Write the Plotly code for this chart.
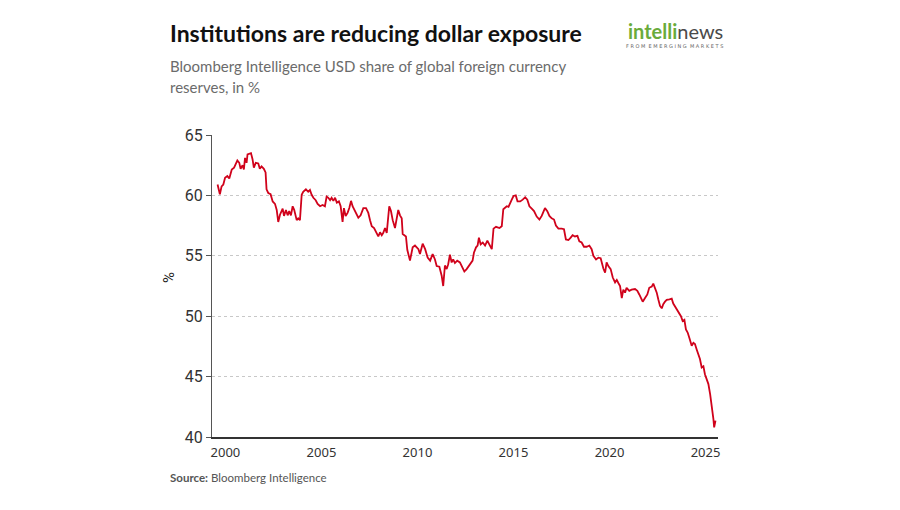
import plotly.graph_objects as go

years = [
    1999.59, 1999.71, 1999.80, 1999.89, 1999.98, 2000.10, 2000.20, 2000.33, 2000.45, 2000.55,
    2000.62, 2000.72, 2000.79, 2000.89, 2000.96, 2001.02, 2001.10, 2001.15, 2001.27, 2001.33,
    2001.41, 2001.48, 2001.58, 2001.71, 2001.79, 2001.88, 2002.00, 2002.09, 2002.14, 2002.23,
    2002.35, 2002.46, 2002.58, 2002.67, 2002.75, 2002.84, 2002.98, 2003.05, 2003.15, 2003.24,
    2003.32, 2003.41, 2003.50, 2003.58, 2003.71, 2003.79, 2003.88, 2003.97, 2004.05, 2004.19,
    2004.31, 2004.40, 2004.49, 2004.58, 2004.70, 2004.80, 2004.93, 2005.06, 2005.18, 2005.27,
    2005.36, 2005.45, 2005.53, 2005.62, 2005.71, 2005.80, 2005.91, 2006.00, 2006.10, 2006.17,
    2006.26, 2006.36, 2006.45, 2006.54, 2006.62, 2006.71, 2006.83, 2006.92, 2007.04, 2007.18,
    2007.32, 2007.44, 2007.53, 2007.62, 2007.74, 2007.88, 2007.96, 2008.05, 2008.14, 2008.22,
    2008.31, 2008.40, 2008.48, 2008.53, 2008.62, 2008.71, 2008.83, 2008.91, 2009.00, 2009.09,
    2009.18, 2009.23, 2009.40, 2009.47, 2009.61, 2009.75, 2009.87, 2010.05, 2010.13, 2010.27,
    2010.40, 2010.53, 2010.66, 2010.79, 2010.91, 2011.00, 2011.14, 2011.26, 2011.34, 2011.43,
    2011.52, 2011.60, 2011.69, 2011.78, 2011.86, 2011.95, 2012.07, 2012.21, 2012.30, 2012.44,
    2012.56, 2012.73, 2012.87, 2012.94, 2013.05, 2013.13, 2013.20, 2013.29, 2013.40, 2013.52,
    2013.64, 2013.74, 2013.87, 2013.96, 2014.09, 2014.27, 2014.39, 2014.47, 2014.56, 2014.65,
    2014.74, 2014.82, 2014.91, 2015.00, 2015.12, 2015.21, 2015.35, 2015.48, 2015.61, 2015.72,
    2015.83, 2015.95, 2016.07, 2016.21, 2016.35, 2016.47, 2016.56, 2016.64, 2016.76, 2016.87,
    2016.99, 2017.11, 2017.21, 2017.34, 2017.51, 2017.63, 2017.73, 2017.86, 2017.98, 2018.08,
    2018.20, 2018.33, 2018.43, 2018.55, 2018.67, 2018.81, 2018.95, 2019.07, 2019.16, 2019.30,
    2019.42, 2019.54, 2019.68, 2019.77, 2019.85, 2019.94, 2020.06, 2020.17, 2020.29, 2020.38,
    2020.46, 2020.55, 2020.64, 2020.72, 2020.81, 2020.89, 2021.03, 2021.15, 2021.33, 2021.45,
    2021.55, 2021.64, 2021.73, 2021.85, 2021.97, 2022.07, 2022.20, 2022.28, 2022.37, 2022.46,
    2022.54, 2022.63, 2022.72, 2022.80, 2022.89, 2022.98, 2023.12, 2023.24, 2023.32, 2023.41,
    2023.53, 2023.64, 2023.72, 2023.81, 2023.90, 2023.98, 2024.07, 2024.16, 2024.28, 2024.37,
    2024.45, 2024.54, 2024.63, 2024.71, 2024.80, 2024.89, 2024.97, 2025.06, 2025.15, 2025.24,
    2025.32, 2025.41, 2025.45, 2025.52,
]

usd_share = [
    60.9, 60.1, 60.75, 60.9, 61.45, 61.6, 61.4, 62.15, 62.3, 62.6,
    62.9, 62.7, 62.2, 62.5, 62.15, 63.1, 62.7, 63.4, 63.45, 63.5,
    63.0, 62.3, 62.7, 62.65, 62.2, 62.4, 62.2, 61.9, 60.5, 60.2,
    60.1, 59.5, 59.3, 58.8, 57.8, 58.4, 58.9, 58.3, 58.8, 58.35,
    58.7, 58.35, 59.1, 58.8, 57.95, 58.1, 57.95, 60.05, 60.3, 60.5,
    60.3, 60.45, 60.05, 59.8, 59.6, 59.3, 59.1, 59.2, 59.1, 59.9,
    59.8, 59.6, 59.8, 59.55, 59.8, 59.4, 59.5, 59.1, 57.8, 58.95,
    58.3, 58.55, 58.95, 59.55, 59.1, 58.8, 58.35, 58.15, 58.35, 58.95,
    58.95, 58.55, 57.95, 57.45, 57.3, 56.9, 56.6, 56.95, 56.7, 56.9,
    57.3, 56.9, 58.35, 59.1, 58.7, 57.95, 57.3, 57.95, 58.8, 58.35,
    58.1, 56.8, 56.6, 55.5, 54.6, 55.7, 55.85, 55.55, 55.15, 56.0,
    55.55, 54.85, 54.6, 55.15, 54.7, 54.15, 54.1, 53.35, 52.5, 54.2,
    53.9, 54.3, 55.1, 54.45, 54.7, 54.4, 54.6, 54.45, 54.15, 53.7,
    53.9, 54.3, 54.6, 55.25, 55.7, 55.85, 56.5, 55.95, 56.1, 55.85,
    56.25, 55.95, 55.55, 57.25, 57.4, 57.3, 57.45, 58.85, 58.95, 59.1,
    59.05, 59.4, 59.65, 59.95, 60.0, 59.5, 59.5, 59.65, 59.85, 59.65,
    59.1, 58.9, 58.7, 58.25, 58.0, 58.3, 58.7, 58.95, 58.7, 58.3,
    58.1, 58.0, 57.5, 57.25, 57.25, 57.2, 56.35, 56.3, 56.5, 56.7,
    56.6, 56.65, 56.2, 56.1, 55.75, 55.75, 55.85, 55.55, 55.0, 54.7,
    54.85, 54.8, 53.95, 53.6, 54.45, 54.15, 53.9, 53.2, 52.8, 53.0,
    52.75, 52.5, 51.5, 52.2, 51.95, 52.35, 52.1, 52.2, 52.25, 52.1,
    51.8, 51.5, 51.2, 51.5, 51.8, 52.35, 52.45, 52.7, 52.35, 51.95,
    51.4, 50.85, 50.65, 51.0, 51.2, 51.35, 51.4, 51.45, 51.05, 50.8,
    50.5, 50.25, 50.0, 49.6, 49.7, 48.9, 48.65, 48.2, 47.55, 47.8,
    47.7, 47.25, 46.85, 46.45, 45.75, 45.85, 45.2, 44.8, 44.38, 43.55,
    42.75, 41.5, 40.8, 41.35,
]

x_ticks = [2000, 2005, 2010, 2015, 2020, 2025]
y_ticks = [40, 45, 50, 55, 60, 65]

title_text = "<b>Institutions are reducing dollar exposure</b>"
subtitle_1 = "Bloomberg Intelligence USD share of global foreign currency"
subtitle_2 = "reserves, in %"
source_text = "<b>Source:</b> Bloomberg Intelligence"

# plot area in pixels
L, R, T, B = 212, 718, 135, 437
W, H = 900, 510


def px(x):
    return (x - L) / (R - L)


def py(y):
    return (B - y) / (B - T)


fig = go.Figure()
fig.add_trace(go.Scatter(
    x=years, y=usd_share, mode="lines",
    line=dict(color="#d0021b", width=1.8),
    hoverinfo="skip", showlegend=False,
))

annotations = [
    dict(text=title_text, x=px(168), y=py(33), xanchor="left", yanchor="middle",
         font=dict(family="Lato", size=23, color="#111111"), showarrow=False),
    dict(text=subtitle_1, x=px(168), y=py(66), xanchor="left", yanchor="middle",
         font=dict(family="Lato", size=15, color="#6b6b6b"), showarrow=False),
    dict(text=subtitle_2, x=px(168), y=py(87), xanchor="left", yanchor="middle",
         font=dict(family="Lato", size=15, color="#6b6b6b"), showarrow=False),
    dict(text="<b><span style='color:#6aab3b'>intelli</span></b><span style='color:#4a4a4a'>news</span>",
         x=px(725), y=py(31), xanchor="right", yanchor="middle",
         font=dict(family="Lato", size=20), showarrow=False),
    dict(text="F R O M  E M E R G I N G  M A R K E T S", x=px(725), y=py(46), xanchor="right", yanchor="middle",
         font=dict(family="DejaVu Sans", size=5, color="#666666"), showarrow=False),
    dict(text="%", x=px(169), y=py(278), xanchor="center", yanchor="middle", textangle=-90,
         font=dict(family="Roboto", size=15, color="#222222"), showarrow=False),
    dict(text=source_text, x=px(168), y=py(477), xanchor="left", yanchor="middle",
         font=dict(family="Lato", size=11.5, color="#555555"), showarrow=False),
]
for a in annotations:
    a["xref"] = "paper"
    a["yref"] = "paper"

fig.update_layout(
    width=W, height=H,
    margin=dict(l=L, r=W - R, t=T, b=H - B, pad=0),
    paper_bgcolor="white", plot_bgcolor="white",
    annotations=annotations,
    showlegend=False,
)
fig.update_xaxes(
    range=[1999.3, 2025.65], tickvals=x_ticks, ticktext=[str(v) for v in x_ticks],
    showgrid=False, zeroline=False,
    showline=True, linecolor="#333333", linewidth=1.5,
    ticks="outside", ticklen=3, tickcolor="rgba(0,0,0,0)",
    tickfont=dict(family="Noto Sans", size=13, color="#333333"),
)
fig.update_yaxes(
    range=[40, 65], tickvals=y_ticks, ticktext=[str(v) for v in y_ticks],
    showgrid=True, gridcolor="#c8c8c8", griddash="3px,3px", gridwidth=1,
    zeroline=False,
    showline=True, linecolor="#555555", linewidth=1,
    ticks="outside", ticklen=5, tickcolor="#555555",
    tickfont=dict(family="Roboto", size=16, color="#333333"),
)

fig.write_html("out.html")
